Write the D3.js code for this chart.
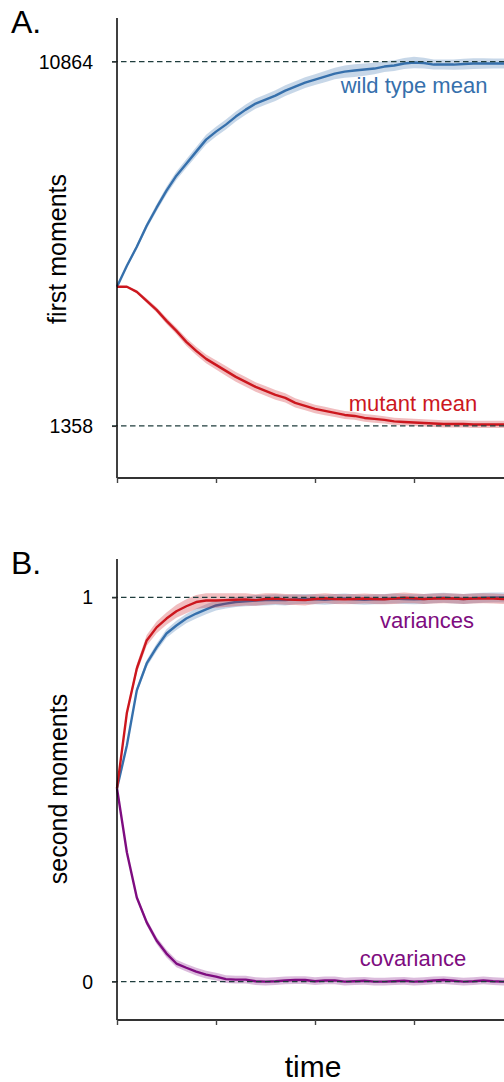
<!DOCTYPE html>
<html><head><meta charset="utf-8">
<script src="https://cdn.jsdelivr.net/npm/d3@7/dist/d3.min.js"></script>
<style>
html,body{margin:0;padding:0;background:#fff;overflow:hidden}
svg{display:block;font-family:"Liberation Sans",Arial,Helvetica,sans-serif}
</style></head><body>
<script>
// ---- data ----
const timeStep = 0.1;
const xTicks = [0, 1, 2, 3, 4];

// Panel A: first moments
const firstTicks = [1358, 10864];
const wildMean = [4988,5536,6033,6581,7051,7495,7887,8200,8514,8827,9036,9219,9428,9610,9767,9871,9976,10106,10211,10315,10394,10472,10550,10602,10629,10655,10681,10733,10760,10812,10838,10825,10785,10785,10785,10799,10812,10812,10812,10812,10812];
const wildMeanSpread = [0,40,60,80,90,100,110,115,120,125,125,130,130,135,135,135,140,140,140,140,140,145,150,160,165,160,150,140,140,145,150,140,130,130,135,140,140,135,130,130,130];
const mutMean = [4988,4988,4857,4622,4387,4100,3839,3552,3317,3108,2951,2794,2638,2507,2376,2272,2168,2089,1959,1880,1802,1750,1697,1645,1619,1567,1541,1515,1476,1462,1449,1436,1423,1410,1410,1410,1397,1397,1397,1397,1397];
const mutMeanSpread = [0,20,40,60,70,80,90,100,110,115,120,125,125,125,125,125,125,120,120,115,110,110,105,105,100,100,100,95,95,95,95,95,95,95,95,95,95,95,95,95,95];

// Panel B: second moments
const secondTicks = [0, 1];
const wildVar = [0.503,0.615,0.758,0.828,0.870,0.906,0.927,0.945,0.958,0.969,0.979,0.984,0.988,0.990,0.992,0.993,0.994,0.993,0.995,0.996,0.995,0.994,0.996,0.997,0.995,0.994,0.995,0.996,0.997,0.996,0.995,0.996,0.998,0.999,0.997,0.996,0.998,0.999,1.000,1.000,1.000];
const wildVarSpread = [0,0.006,0.008,0.009,0.010,0.011,0.012,0.012,0.013,0.013,0.013,0.013,0.013,0.013,0.014,0.014,0.014,0.014,0.013,0.013,0.013,0.013,0.013,0.013,0.013,0.013,0.013,0.013,0.013,0.013,0.013,0.013,0.013,0.013,0.013,0.013,0.013,0.013,0.013,0.013,0.013];
const mutVar = [0.503,0.700,0.815,0.888,0.922,0.945,0.964,0.977,0.988,0.992,0.992,0.993,0.994,0.995,0.993,0.996,0.997,0.995,0.994,0.993,0.996,0.998,0.996,0.995,0.996,0.997,0.996,0.995,0.997,0.999,0.998,0.996,0.997,0.998,0.997,0.996,0.997,0.998,0.997,0.996,0.996];
const mutVarSpread = [0,0.008,0.012,0.014,0.015,0.016,0.017,0.018,0.018,0.019,0.019,0.018,0.017,0.016,0.015,0.015,0.014,0.014,0.014,0.014,0.013,0.013,0.013,0.013,0.013,0.013,0.013,0.013,0.014,0.014,0.013,0.013,0.013,0.013,0.013,0.013,0.013,0.013,0.013,0.013,0.013];
const covar = [0.503,0.336,0.219,0.154,0.107,0.073,0.047,0.036,0.026,0.018,0.013,0.0065,0.005,0.005,0.001,0.000,0.001,0.003,0.004,0.004,0.001,0.003,0.003,0.000,0.001,0.002,0.000,0.000,0.001,0.002,0.000,0.001,0.003,0.004,0.002,0.000,0.001,0.003,0.001,0.000,0.001];
const covarSpread = [0,0.004,0.006,0.008,0.009,0.010,0.010,0.010,0.010,0.010,0.010,0.010,0.010,0.010,0.010,0.010,0.010,0.010,0.010,0.010,0.010,0.010,0.010,0.010,0.010,0.010,0.010,0.010,0.010,0.010,0.010,0.010,0.010,0.010,0.010,0.010,0.010,0.010,0.010,0.010,0.010];

// ---- styles ----
const W = 504, H = 1082;
const BLUE = "#3670ac", RED = "#cc171e", PURPLE = "#7e0c80";
const FONT = '"Liberation Sans",Arial,Helvetica,sans-serif';
const svg = d3.select("body").append("svg").attr("width", W).attr("height", H)
  .style("font-family", FONT);

const x = d3.scaleLinear().domain([0, 4]).range([117, 513]);

function panel(cfg) {
  const y = d3.scaleLinear().domain(cfg.domain).range(cfg.range);
  const g = svg.append("g");
  cfg.series.forEach(s => {
    const pts = s.values.map((v, i) => ({t: i * timeStep, v, s: s.spread[i]}));
    g.append("path").datum(pts)
      .attr("fill", s.color).attr("fill-opacity", 0.28)
      .attr("d", d3.area().x(d => x(d.t)).y0(d => y(d.v - d.s)).y1(d => y(d.v + d.s)));
    g.append("path").datum(pts)
      .attr("fill", "none").attr("stroke", s.color).attr("stroke-width", 2.4)
      .attr("stroke-linejoin", "round")
      .attr("d", d3.line().x(d => x(d.t)).y(d => y(d.v)));
  });
  cfg.ticks.forEach(tv => {
    g.append("line").attr("x1", x(0) - 5).attr("x2", W)
      .attr("y1", y(tv)).attr("y2", y(tv))
      .attr("stroke", "#1f3d3d").attr("stroke-width", 1.3)
      .attr("stroke-dasharray", "5.5,3.5");
  });
  // y axis
  const ya = d3.axisLeft(y).tickValues(cfg.ticks).tickSize(5).tickFormat("");
  const yg = g.append("g").attr("transform", `translate(${x(0)},0)`).call(ya);
  yg.select(".domain").attr("d", `M0,${cfg.range[1]}V${cfg.range[0]}`).attr("stroke", "#000").attr("stroke-width", 1.5);
  yg.selectAll(".tick line").attr("stroke", "#333").attr("stroke-width", 1.2);
  cfg.ticks.forEach(tv => {
    svg.append("text").attr("x", 93).attr("y", y(tv)).attr("dy", "0.36em")
      .attr("text-anchor", "end").attr("font-size", 19.5).attr("fill", "#000")
      .text(d3.format("d")(tv));
  });
  // x axis
  const xa = d3.axisBottom(x).tickValues(xTicks).tickSize(5).tickFormat("");
  const xg = g.append("g").attr("transform", `translate(0,${cfg.range[0]})`).call(xa);
  xg.select(".domain").attr("d", `M${x(0)},0H${x(4)}`).attr("stroke", "#333").attr("stroke-width", 2.2);
  xg.selectAll(".tick line").attr("stroke", "#444").attr("stroke-width", 1.4);
  // titles
  svg.append("text").attr("x", 11).attr("y", cfg.letterY).attr("font-size", 32).attr("fill", "#000").text(cfg.letter);
  svg.append("text").attr("transform", `translate(${cfg.ylabX},${cfg.ylabY}) rotate(-90)`)
    .attr("text-anchor", "middle").attr("font-size", cfg.ylabSize).attr("fill", "#000").text(cfg.ylab);
  cfg.labels.forEach(l => {
    svg.append("text").attr("x", l.x).attr("y", l.y).attr("font-size", 22)
      .attr("text-anchor", "middle").attr("fill", l.color).text(l.text);
  });
}

panel({
  domain: [0, 12000], range: [478, 18], ticks: firstTicks,
  letter: "A.", letterY: 33, ylab: "first moments", ylabX: 66, ylabY: 249, ylabSize: 25,
  series: [
    {values: wildMean, spread: wildMeanSpread, color: BLUE},
    {values: mutMean, spread: mutMeanSpread, color: RED}
  ],
  labels: [
    {text: "wild type mean", x: 414, y: 93, color: BLUE},
    {text: "mutant mean", x: 413, y: 411, color: RED}
  ]
});

panel({
  domain: [-0.1, 1.1], range: [1020, 559], ticks: secondTicks,
  letter: "B.", letterY: 574, ylab: "second moments", ylabX: 67, ylabY: 789, ylabSize: 25,
  series: [
    {values: covar, spread: covarSpread, color: PURPLE},
    {values: wildVar, spread: wildVarSpread, color: BLUE},
    {values: mutVar, spread: mutVarSpread, color: RED}
  ],
  labels: [
    {text: "variances", x: 427, y: 628, color: PURPLE},
    {text: "covariance", x: 413, y: 966, color: PURPLE}
  ]
});

svg.append("text").attr("x", 313).attr("y", 1077).attr("text-anchor", "middle")
  .attr("font-size", 30).attr("fill", "#000").text("time");
</script>
</body></html>
